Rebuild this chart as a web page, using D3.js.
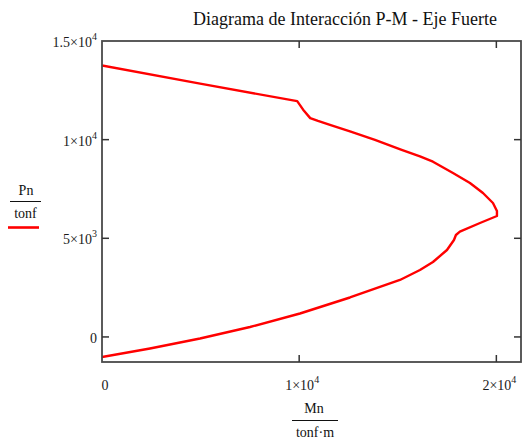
<!DOCTYPE html>
<html><head><meta charset="utf-8">
<script src="https://cdn.jsdelivr.net/npm/d3@7"></script>
<style>
html,body{margin:0;padding:0;background:#fff;}
svg{display:block;font-family:"Liberation Serif","Times New Roman",serif;}
</style></head>
<body><svg id="c" width="524" height="446"></svg>
<script>
// Data (Mn in tonf·m, Pn in tonf)
const mValues = [0, 4975, 9900, 10200, 10560, 10953, 11562, 12576, 13844, 15198, 16126, 16785, 17800, 18662, 19321, 19828, 20030, 20030, 19170, 18150, 17950, 17850, 17495, 16785, 16125, 15110, 12575, 10040, 7505, 4970, 2434, 0];
const pValues = [13760, 12840, 11950, 11520, 11090, 10946, 10744, 10414, 9983, 9476, 9147, 8883, 8310, 7804, 7297, 6790, 6384, 6130, 5776, 5335, 5168, 4914, 4407, 3799, 3393, 2887, 2000, 1188, 504, -79, -586, -1020];
const xTickValues = [0, 10000, 20000];
const xTickBase = ["0", "1\u00D710", "2\u00D710"];
const xTickExp = ["", "4", "4"];
const yTickValues = [0, 5000, 10000, 15000];
const yTickBase = ["0", "5\u00D710", "1\u00D710", "1.5\u00D710"];
const yTickExp = ["", "3", "4", "4"];
const title = "Diagrama de Interacción P-M - Eje Fuerte";

const svg = d3.select("#c");
const L = 102, R = 521, T = 41, B = 362;
const x = d3.scaleLinear().domain([0, 21250]).range([L, R]);
const y = d3.scaleLinear().domain([-1270, 15000]).range([B, T]);

// title
svg.append("text").attr("x", 345).attr("y", 25).attr("text-anchor", "middle")
  .attr("font-size", 18).attr("fill", "#111").text(title);

// curve
const pts = mValues.map((m, i) => [m, pValues[i]]);
const clipId = "plotclip";
svg.append("clipPath").attr("id", clipId).append("rect")
  .attr("x", L).attr("y", T).attr("width", R - L).attr("height", B - T);
svg.append("path").datum(pts)
  .attr("clip-path", "url(#" + clipId + ")")
  .attr("d", d3.line().x(d => x(d[0])).y(d => y(d[1])))
  .attr("fill", "none").attr("stroke", "#ff0000").attr("stroke-width", 2.4)
  .attr("stroke-linejoin", "round");

// frame
svg.append("rect").attr("x", L).attr("y", T).attr("width", R - L).attr("height", B - T)
  .attr("fill", "none").attr("stroke", "#4a4a4a").attr("stroke-width", 1.8);

// ticks
const tk = 7;
const g = svg.append("g").attr("stroke", "#333").attr("stroke-width", 1.5);
xTickValues.forEach(v => {
  if (v === 0) return;
  g.append("line").attr("x1", x(v)).attr("x2", x(v)).attr("y1", B).attr("y2", B - tk);
  g.append("line").attr("x1", x(v)).attr("x2", x(v)).attr("y1", T).attr("y2", T + tk);
});
yTickValues.forEach(v => {
  if (v === 15000) return;
  g.append("line").attr("x1", L).attr("x2", L + tk).attr("y1", y(v)).attr("y2", y(v));
  g.append("line").attr("x1", R).attr("x2", R - tk).attr("y1", y(v)).attr("y2", y(v));
});

// tick labels
function label(px, py, base, exp, anchor) {
  const t = svg.append("text").attr("x", px).attr("y", py).attr("text-anchor", anchor)
    .attr("font-size", 14).attr("fill", "#1a1a1a");
  t.append("tspan").text(base);
  if (exp) t.append("tspan").attr("dy", -7).attr("font-size", 10).text(exp);
  return t;
}
xTickValues.forEach((v, i) => {
  label(x(v) + 3, 390, xTickBase[i], xTickExp[i], "middle");
});
yTickValues.forEach((v, i) => {
  label(97, y(v) + 6, yTickBase[i], yTickExp[i], "end");
});

// y axis label (fraction) + legend line
svg.append("text").attr("x", 26).attr("y", 195).attr("text-anchor", "middle")
  .attr("font-size", 14).attr("fill", "#111").text("Pn");
svg.append("line").attr("x1", 10).attr("x2", 41).attr("y1", 201.5).attr("y2", 201.5)
  .attr("stroke", "#111").attr("stroke-width", 1);
svg.append("text").attr("x", 25.5).attr("y", 218).attr("text-anchor", "middle")
  .attr("font-size", 14).attr("fill", "#111").text("tonf");
svg.append("line").attr("x1", 8).attr("x2", 39).attr("y1", 227.5).attr("y2", 227.5)
  .attr("stroke", "#ff0000").attr("stroke-width", 2.6);

// x axis label (fraction)
svg.append("text").attr("x", 314).attr("y", 413).attr("text-anchor", "middle")
  .attr("font-size", 14).attr("fill", "#111").text("Mn");
svg.append("line").attr("x1", 292).attr("x2", 338).attr("y1", 420.5).attr("y2", 420.5)
  .attr("stroke", "#111").attr("stroke-width", 1);
svg.append("text").attr("x", 315).attr("y", 437).attr("text-anchor", "middle")
  .attr("font-size", 14).attr("fill", "#111").text("tonf\u00B7m");
</script></body></html>
